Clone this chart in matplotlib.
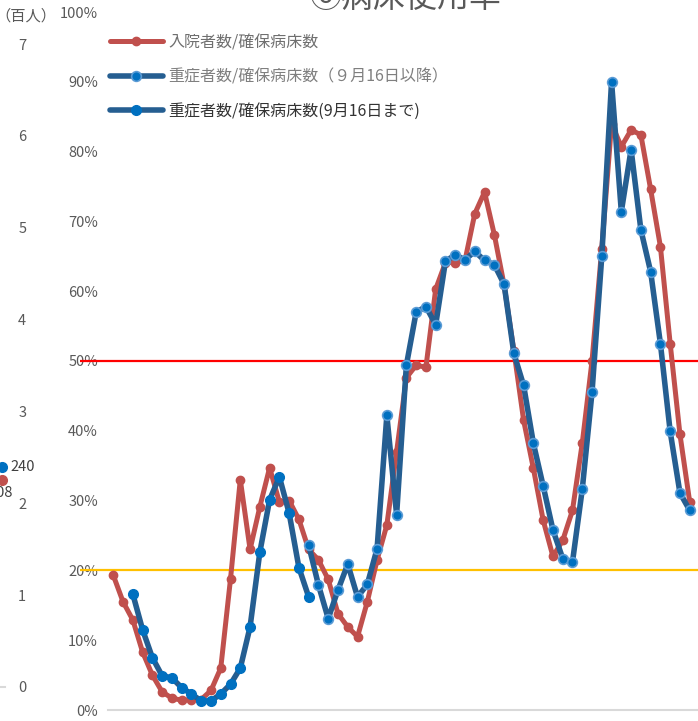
import matplotlib
matplotlib.use('Agg')
import matplotlib.pyplot as plt
from matplotlib.lines import Line2D
from matplotlib.ticker import FuncFormatter
import numpy as np

plt.rcParams['font.family'] = ['Noto Sans CJK JP', 'DejaVu Sans']

# 入院者数/確保病床数 (%), one value per week
hosp_rate = [19.3, 15.5, 12.9, 8.3, 5.0, 2.6, 1.7, 1.4, 1.5, 1.5,
             2.8, 6.0, 18.8, 33.0, 23.0, 29.1, 34.7, 29.8, 30.0, 27.3,
             23.0, 21.5, 18.7, 13.8, 11.9, 10.5, 15.5, 21.5, 26.5, 37.0,
             47.6, 49.4, 49.1, 60.3, 64.1, 64.1, 64.4, 71.1, 74.2, 68.1,
             60.9, 51.5, 41.5, 34.6, 27.2, 22.0, 24.3, 28.6, 38.2, 50.0,
             66.1, 84.0, 80.7, 83.1, 82.4, 74.6, 66.4, 52.5, 39.5, 29.8]

# 重症者数/確保病床数 (9月16日まで), starts at week 2
severe_old_start = 2
severe_old = [16.6, 11.5, 7.5, 4.9, 4.6, 3.2, 2.3, 1.3, 1.3, 2.3,
              3.7, 6.0, 11.9, 22.6, 30.1, 33.4, 28.2, 20.4, 16.2]

# 重症者数/確保病床数 (9月16日以降), starts at week 20
severe_new_start = 20
severe_new = [23.6, 17.9, 13.1, 17.2, 20.9, 16.2, 18.0, 23.1, 42.2, 28.0,
              49.4, 57.0, 57.8, 55.2, 64.3, 65.2, 64.5, 65.7, 64.4, 63.8,
              61.0, 51.1, 46.5, 38.2, 32.1, 25.8, 21.7, 21.2, 31.6, 45.5,
              65.0, 90.0, 71.4, 80.3, 68.8, 62.8, 52.5, 39.9, 31.1, 28.6]

labels = ['入院者数/確保病床数',
          '重症者数/確保病床数（９月16日以降）',
          '重症者数/確保病床数(9月16日まで)']

ref_levels = [50, 20]
ref_colors = ['#FF0000', '#FFC000']
y_ticks = np.arange(0, 101, 10)

# neighbouring chart on the left (百人)
left_ticks = list(range(0, 8))
left_blue = 2.40
left_red = 2.25
left_labels = ['240', '208']

RED = '#C0504D'
BLUE_LINE = '#255E91'
BLUE_DOT = '#0070C0'
GRAY = '#595959'

W, H = 698, 721
fig = plt.figure(figsize=(W / 100, H / 100), dpi=100)

# main chart
step = 9.77
ax_left, ax_right = 108.4, 720
ax = fig.add_axes([ax_left / W, 11 / H, (ax_right - ax_left) / W, 698 / H])
ax.set_xlim(-0.5, -0.5 + (ax_right - ax_left) / step)
ax.set_ylim(0, 100)

x_hosp = np.arange(len(hosp_rate))
x_old = np.arange(severe_old_start, severe_old_start + len(severe_old))
x_new = np.arange(severe_new_start, severe_new_start + len(severe_new))

x_ref0 = -0.5 - (ax_left - 80) / step
ax.hlines(ref_levels, x_ref0, ax.get_xlim()[1], colors=ref_colors, lw=1.6,
          clip_on=False, zorder=2)

ax.plot(x_hosp, hosp_rate, color=RED, lw=3.6, marker='o', ms=6,
        mfc=RED, mec=RED, solid_joinstyle='round', solid_capstyle='round', zorder=3)
ax.plot(x_old, severe_old, color=BLUE_LINE, lw=4, marker='o', ms=7,
        mfc=BLUE_DOT, mec=BLUE_DOT, solid_joinstyle='round', solid_capstyle='round', zorder=4)
ax.plot(x_new, severe_new, color=BLUE_LINE, lw=4, marker='o', ms=7,
        mfc=BLUE_DOT, mec='#5B9BD5', mew=1.2, solid_joinstyle='round',
        solid_capstyle='round', zorder=5)

for s in ['top', 'right', 'left']:
    ax.spines[s].set_visible(False)
ax.spines['bottom'].set_color('#D9D9D9')
ax.spines['bottom'].set_linewidth(1.5)
ax.set_xticks([])
ax.set_yticks(y_ticks)
ax.yaxis.set_major_formatter(FuncFormatter(lambda v, p: f'{v:.0f}%'))
ax.tick_params(axis='y', length=0, pad=7.5, labelsize=10.5, labelcolor=GRAY)

handles = [
    Line2D([], [], color=RED, lw=3.6, marker='o', ms=6, mfc=RED, mec=RED,
           solid_capstyle='round'),
    Line2D([], [], color=BLUE_LINE, lw=4, marker='o', ms=7, mfc=BLUE_DOT,
           mec='#5B9BD5', mew=1.2, solid_capstyle='round'),
    Line2D([], [], color=BLUE_LINE, lw=4, marker='o', ms=7, mfc=BLUE_DOT,
           mec=BLUE_DOT, solid_capstyle='round'),
]
leg = ax.legend(handles, labels, loc='upper left', bbox_to_anchor=(110 / W, 1 - 34 / H),
                bbox_transform=fig.transFigure, frameon=False, fontsize=11.5,
                handlelength=3.3, handletextpad=0.33, labelspacing=1.08,
                borderpad=0, borderaxespad=0)
for t, c in zip(leg.get_texts(), ['#6F6F6F', '#7F7F7F', '#333333']):
    t.set_color(c)

fig.text(406 / W, 1 - 7 / H, '⑥病床使用率', ha='center', va='baseline',
         fontsize=23, color=GRAY)

# partial neighbour chart at the left edge
ax0 = fig.add_axes([-0.1, 34 / H, 0.1072, 643 / H])
ax0.set_xlim(0, 1)
ax0.set_ylim(0, 7)
ax0.yaxis.tick_right()
ax0.set_yticks(left_ticks)
ax0.set_xticks([])
ax0.tick_params(axis='y', length=0, pad=9.5, labelsize=10.5, labelcolor=GRAY)
for s in ['top', 'right', 'left']:
    ax0.spines[s].set_visible(False)
ax0.spines['bottom'].set_color('#D9D9D9')
ax0.spines['bottom'].set_linewidth(1.5)
ax0.patch.set_alpha(0)
px = 0.956
ax0.plot([px], [left_red], 'o', color=RED, ms=7, clip_on=False)
ax0.plot([px], [left_blue], 'o', color=BLUE_DOT, ms=7, clip_on=False)
ax0.annotate(left_labels[0], (px, left_blue), xytext=(6, 0), textcoords='offset points',
             va='center', ha='left', fontsize=10.5, color='#404040', annotation_clip=False)
ax0.annotate(left_labels[1], (px, left_red), xytext=(8, -9), textcoords='offset points',
             va='center', ha='right', fontsize=10.5, color='#404040', annotation_clip=False)
fig.text(-5 / W, 1 - 16 / H, '（百人）', ha='left', va='center', fontsize=11, color=GRAY)

fig.savefig('out.png', dpi=100)
